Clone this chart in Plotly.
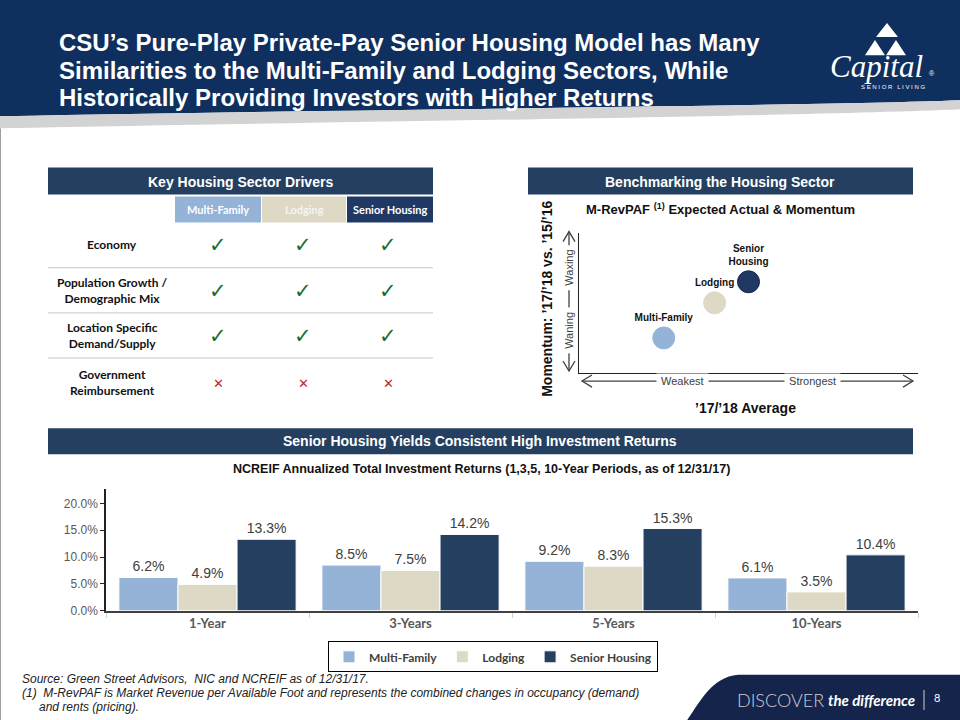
import plotly.graph_objects as go

W, H = 960, 720
FIG_H = 729  # compensates the slight vertical squeeze seen in the photographed page
def fx(x): return x / W
def fy(y): return 1 - y / H

# ---------------- data ----------------
categories = ["1-Year", "3-Years", "5-Years", "10-Years"]
multi_family = [6.2, 8.5, 9.2, 6.1]
lodging = [4.9, 7.5, 8.3, 3.5]
senior_housing = [13.3, 14.2, 15.3, 10.4]
series_names = ["Multi-Family", "Lodging", "Senior Housing"]
y_ticks = [0, 5, 10, 15, 20]

bench_names = ["Multi-Family", "Lodging", "Senior<br>Housing"]
bench_x = [2.5, 4.0, 5.0]   # '17/'18 average (weakest -> strongest)
bench_y = [2.5, 5.0, 6.5]   # momentum (waning -> waxing)

drivers = ["Economy", "Population Growth /<br>Demographic Mix",
           "Location Specific<br>Demand/Supply", "Government<br>Reimbursement"]
driver_cols = ["Multi-Family", "Lodging", "Senior Housing"]
driver_marks = [[1, 1, 1], [1, 1, 1], [1, 1, 1], [0, 0, 0]]

title_lines = ["CSU’s Pure-Play Private-Pay Senior Housing Model has Many",
               "Similarities to the Multi-Family and Lodging Sectors, While",
               "Historically Providing Investors with Higher Returns"]

# ---------------- styles ----------------
C_MF = "#95b3d7"
C_LO = "#ddd9c4"
C_SH = "#243f60"
NAVY = "#0f2f5f"
BAR_HDR = "#243f60"
ARIAL = "Liberation Sans, Arial, sans-serif"
CAL = "Lato, Carlito, Calibri, sans-serif"

fig = go.Figure()

# bar chart
for name, vals, col in zip(series_names, [multi_family, lodging, senior_housing], [C_MF, C_LO, C_SH]):
    fig.add_trace(go.Bar(
        x=categories, y=vals, name=name,
        marker=dict(color=col, line=dict(color="white", width=1)),
        texttemplate="%{y:.1f}%", textposition="outside",
        textfont=dict(family=ARIAL, size=14, color="#404040"),
        cliponaxis=False, xaxis="x", yaxis="y"))

# bubble chart
fig.add_trace(go.Scatter(
    x=bench_x, y=bench_y, mode="markers+text", text=bench_names,
    textposition="top center",
    textfont=dict(family=ARIAL, size=10, color="#111111", weight="bold"),
    marker=dict(size=22, color=[C_MF, C_LO, "#1f3864"],
                line=dict(color=[C_MF, C_LO, "#14284a"], width=1)),
    cliponaxis=False, showlegend=False, xaxis="x2", yaxis="y2", hoverinfo="skip"))

shapes = []
ann = []

def rect(x0, y0, x1, y1, fill, line=None, lw=0):
    shapes.append(dict(type="rect", xref="paper", yref="paper",
                       x0=fx(x0), x1=fx(x1), y0=fy(y1), y1=fy(y0),
                       fillcolor=fill, line=dict(color=line or fill, width=lw),
                       layer="above"))

def line(x0, y0, x1, y1, color, width=1):
    shapes.append(dict(type="line", xref="paper", yref="paper",
                       x0=fx(x0), x1=fx(x1), y0=fy(y0), y1=fy(y1),
                       line=dict(color=color, width=width)))

def P(x, y):
    return f"{fx(x):.5f},{fy(y):.5f}"

def path(segs, fill=None, color=None, width=0, closed=True):
    parts = []
    for seg in segs:
        parts.append(seg[0] + " " + " ".join(P(*p) for p in seg[1:]))
    s = " ".join(parts) + (" Z" if closed else "")
    d = dict(type="path", xref="paper", yref="paper", path=s,
             line=dict(color=color or fill or "rgba(0,0,0,0)", width=width))
    if fill:
        d["fillcolor"] = fill
    shapes.append(d)

def text(x, y, t, size=12, color="#000", family=ARIAL, bold=False, italic=False,
         xanchor="center", yanchor="middle", align="center", angle=0, bg=None, weight=None):
    f = dict(family=family, size=size, color=color)
    if bold:
        f["weight"] = "bold"
    if weight:
        f["weight"] = weight
    if italic:
        f["style"] = "italic"
    a = dict(xref="paper", yref="paper", x=fx(x), y=fy(y), text=t, showarrow=False,
             font=f, xanchor=xanchor, yanchor=yanchor, align=align, textangle=angle)
    if bg:
        a["bgcolor"] = bg
    ann.append(a)

# ---- header ----
path([("M", (0, 0)), ("L", (960, 0)), ("L", (960, 100)),
      ("C", (800, 106), (420, 108), (0, 116))], fill=NAVY)
path([("M", (0, 116)), ("C", (420, 108), (800, 106), (960, 100)),
      ("L", (960, 109)), ("C", (800, 116), (420, 120), (0, 128))], fill="#d3d3d3")
for t, yy in zip(title_lines, [42, 70, 97]):
    text(57, yy, t, size=24, color="white", bold=True, xanchor="left", align="left")
# logo
path([("M", (887, 23)), ("L", (898, 37)), ("L", (876, 37))], fill="white")
path([("M", (875, 40)), ("L", (885, 55)), ("L", (865, 55))], fill="white")
path([("M", (896, 40)), ("L", (906, 55)), ("L", (886, 55))], fill="white")
text(876, 66, "Capital", size=31, color="white", family="Liberation Serif, serif", italic=True)
text(932, 73, "®", size=7, color="white")
text(893, 87, "S E N I O R   L I V I N G", size=6, color="white")

# ---- table ----
rect(48, 167, 433, 194, BAR_HDR)
text(240, 181, "Key Housing Sector Drivers", size=14, color="white", bold=True)
col_x = [218, 303, 388]
col_box = [(175, 261, C_MF, "white"), (262, 346, C_LO, "#f4f4f4"), (347, 433, "#1f3864", "white")]
for (x0, x1, fill, tc), name in zip(col_box, driver_cols):
    rect(x0, 196, x1, 222, fill)
    text((x0 + x1) / 2, 209, name, size=11, color=tc, family=CAL, bold=True)
row_y = [244, 290, 335, 381]
for yy in [267, 312, 357]:
    line(48, yy, 433, yy, "#c8c8c8", 1)
for r, (lab, yy) in enumerate(zip(drivers, row_y)):
    text(112, yy, lab, size=12, color="#111111", family=CAL, bold=True)
    for c, xx in enumerate(col_x):
        if driver_marks[r][c]:
            text(xx, yy, "✓", size=21, color="#1d6b2c", family="DejaVu Sans", bold=True)
        else:
            text(xx, yy + 1, "✕", size=13, color="#c0272d", family="DejaVu Sans")

# ---- benchmarking ----
rect(528, 167, 913, 194, BAR_HDR)
text(720, 181, "Benchmarking the Housing Sector", size=14, color="white", bold=True)
text(720, 208, "M-RevPAF <sup>(1)</sup> Expected Actual &amp; Momentum", size=13, color="#111", bold=True)
text(547, 298, "Momentum: ’17/’18 vs. ’15/’16", size=14, color="#111", bold=True, angle=-90)
text(745, 407, "’17/’18 Average", size=14, color="#111", bold=True)
AC = "#404040"
line(582, 380, 913, 380, AC, 1.3)
path([("M", (592, 374)), ("L", (582, 380)), ("L", (592, 386))], color=AC, width=1.3, closed=False)
path([("M", (903, 374)), ("L", (913, 380)), ("L", (903, 386))], color=AC, width=1.3, closed=False)
line(569, 231, 569, 370, AC, 1.3)
path([("M", (563, 241)), ("L", (569, 231)), ("L", (575, 241))], color=AC, width=1.3, closed=False)
path([("M", (563, 360)), ("L", (569, 370)), ("L", (575, 360))], color=AC, width=1.3, closed=False)
text(682, 380, " Weakest ", size=11, color="#404040", bg="white")
text(812, 380, " Strongest ", size=11, color="#404040", bg="white")
text(569, 267, " Waxing ", size=11, color="#404040", bg="white", angle=-90)
text(569, 330, " Waning ", size=11, color="#404040", bg="white", angle=-90)

# ---- returns ----
rect(48, 427, 913, 453, BAR_HDR)
text(480, 440, "Senior Housing Yields Consistent High Investment Returns", size=14, color="white", bold=True)
text(481, 468, "NCREIF Annualized Total Investment Returns (1,3,5, 10-Year Periods, as of 12/31/17)",
     size=12.5, color="#111", bold=True)

# ---- footer ----
text(20, 677, "Source: Green Street Advisors,  NIC and NCREIF as of 12/31/17.", size=12,
     color="#222", italic=True, xanchor="left")
text(20, 691, "(1)  M-RevPAF is Market Revenue per Available Foot and represents the combined changes in occupancy (demand)",
     size=12, color="#222", italic=True, xanchor="left")
text(37, 705, "and rents (pricing).", size=12, color="#222", italic=True, xanchor="left")
path([("M", (686, 720)), ("C", (700, 700), (712, 675), (738, 673)),
      ("L", (960, 673)), ("L", (960, 720))], fill="#14244b")
text(780, 698, "DISCOVER", size=18, color="#c9ced8", family=CAL, weight=300)
text(871, 698, "the difference", size=15, color="white", family=CAL, bold=True, italic=True)
line(924, 688, 924, 708, "#c9ced8", 1)
text(937, 696, "8", size=11, color="white", family=CAL)
line(0, 718.5, 686, 718.5, "#a0a0a0", 1)
line(0.5, 128, 0.5, 720, "#a0a0a0", 1)

fig.update_layout(
    width=W, height=FIG_H, autosize=False,
    margin=dict(l=0, r=0, t=0, b=0),
    paper_bgcolor="white", plot_bgcolor="rgba(0,0,0,0)",
    barmode="group", bargap=0.127, bargroupgap=0,
    shapes=shapes, annotations=ann,
    showlegend=True,
    legend=dict(orientation="h", x=fx(493), xanchor="center", y=fy(655), yanchor="middle",
                bordercolor="#000", borderwidth=1, bgcolor="white",
                font=dict(family=CAL, size=12, color="#404040", weight="bold"),
                itemwidth=30, traceorder="normal"),
    xaxis=dict(domain=[fx(106), fx(918)], anchor="y", type="category",
               showline=True, linecolor="#404040", linewidth=2,
               ticks="outside", tickson="boundaries", ticklen=5, tickcolor="#d0d0d0",
               tickfont=dict(family=CAL, size=13, color="#595959", weight="bold"),
               showgrid=False, zeroline=False),
    yaxis=dict(domain=[fy(609), fy(488)], anchor="x", range=[0, 22.6],
               tickvals=y_ticks, ticktext=[f"{v:.1f}%" for v in y_ticks],
               showline=True, linecolor="#222", linewidth=1.5,
               ticks="outside", ticklen=4, tickcolor="#222",
               tickfont=dict(family=ARIAL, size=12, color="#595959"),
               showgrid=False, zeroline=False),
    xaxis2=dict(domain=[fx(579), fx(918)], anchor="y2", range=[0, 10],
                showline=True, linecolor="#222", linewidth=1,
                showticklabels=False, ticks="", showgrid=False, zeroline=False),
    yaxis2=dict(domain=[fy(372), fy(232)], anchor="x2", range=[0, 10],
                showline=True, linecolor="#222", linewidth=1,
                showticklabels=False, ticks="", showgrid=False, zeroline=False),
)

fig.write_html("out.html", config={"displayModeBar": False},
               post_script="document.body.style.margin='0';document.body.style.overflow='hidden';")
